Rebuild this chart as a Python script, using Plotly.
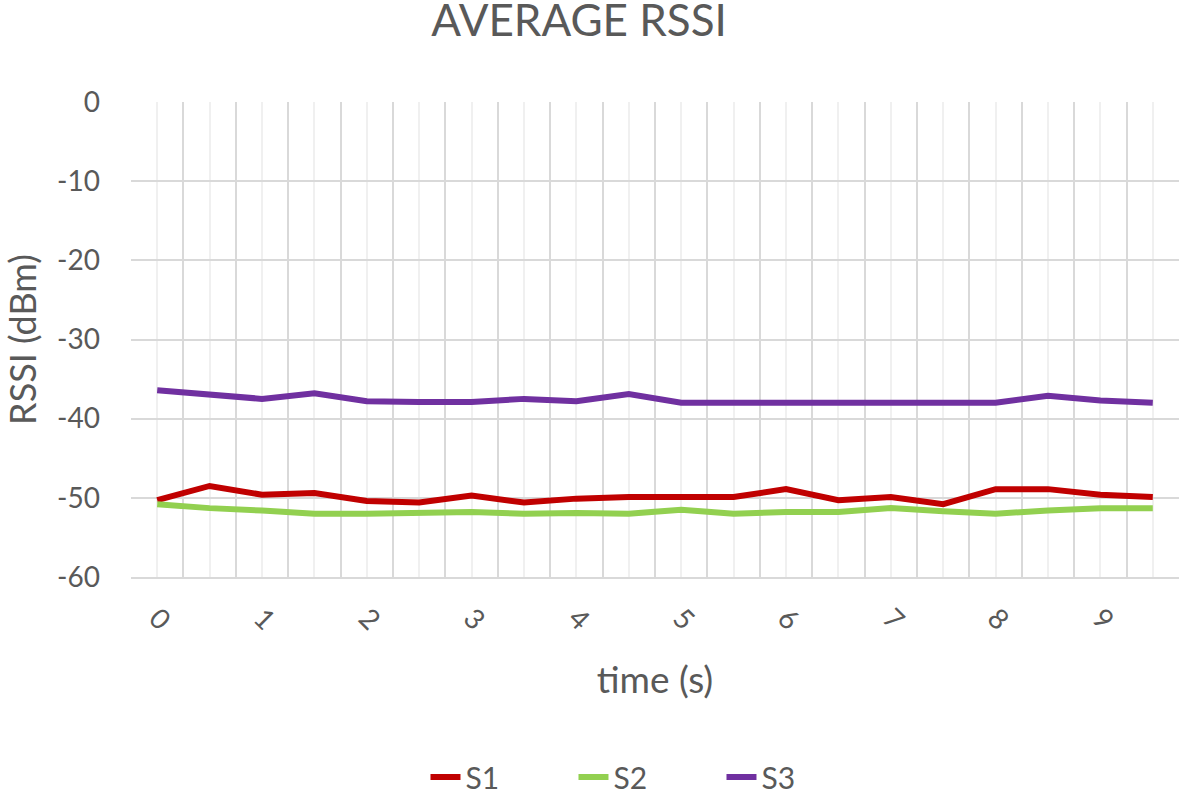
import plotly.graph_objects as go

# time axis (s), one sample every half second
time = [0, 0.5, 1, 1.5, 2, 2.5, 3, 3.5, 4, 4.5, 5, 5.5, 6, 6.5, 7, 7.5, 8, 8.5, 9, 9.5]
tick_labels = ["0", "", "1", "", "2", "", "3", "", "4", "", "5", "", "6", "", "7", "", "8", "", "9", ""]

# average RSSI per sensor (dBm)
s1 = [-50.3, -48.5, -49.6, -49.4, -50.4, -50.6, -49.7, -50.6, -50.1, -49.9,
      -49.9, -49.9, -48.9, -50.3, -49.9, -50.8, -48.9, -48.9, -49.6, -49.9]
s2 = [-50.8, -51.3, -51.6, -52.0, -52.0, -51.9, -51.8, -52.0, -51.9, -52.0,
      -51.5, -52.0, -51.8, -51.8, -51.3, -51.7, -52.0, -51.6, -51.3, -51.3]
s3 = [-36.4, -36.9, -37.5, -36.8, -37.8, -37.9, -37.9, -37.5, -37.8, -36.9,
      -38.0, -38.0, -38.0, -38.0, -38.0, -38.0, -38.0, -37.1, -37.7, -38.0]

series = [("S1", s1, "#C00000"), ("S2", s2, "#92D050"), ("S3", s3, "#7030A0")]
y_ticks = [0, -10, -20, -30, -40, -50, -60]
y_labels = ["0", "-10", "-20", "-30", "-40", "-50", "-60"]

TEXT = "#595959"
FONT = "Lato"
W, H = 1181, 797

fig = go.Figure()
for name, vals, col in series:
    fig.add_trace(go.Scatter(x=time, y=vals, name=name, mode="lines",
                             line=dict(color=col, width=6)))

# category boundaries sit half a step either side of each sample
half = (time[1] - time[0]) / 2
boundaries = [time[0] - half] + [t + half for t in time]

fig.update_layout(
    width=W, height=H,
    paper_bgcolor="white", plot_bgcolor="white",
    margin=dict(l=131, r=2, t=102, b=220),
    font=dict(family=FONT, color=TEXT, size=28),
    title=dict(text="AVERAGE RSSI", x=0.4903, xref="container", xanchor="center",
               y=1 - 21 / H, yref="container", yanchor="middle",
               font=dict(size=44, color=TEXT, family=FONT)),
    showlegend=True,
    # legend placed in window coords so it doesn't shrink the plot area
    legend=dict(orientation="h", x=0.281, xanchor="left", xref="paper",
                y=1 - 777 / H, yref="container", yanchor="middle",
                font=dict(size=30, color=TEXT), entrywidth=103,
                entrywidthmode="pixels", tracegroupgap=0),
)

fig.update_xaxes(
    range=[boundaries[0], boundaries[-1]], automargin=False,
    tickmode="array", tickvals=time, ticktext=tick_labels,
    tickangle=45, ticks="", ticklabelstandoff=12,
    showgrid=True, gridcolor="#F0F0F0", gridwidth=1.5,
    minor=dict(tickmode="array", tickvals=boundaries, showgrid=True,
               gridcolor="#D9D9D9", gridwidth=1.5, ticks=""),
    showline=True, linecolor="#D9D9D9", linewidth=1.5,
    zeroline=False,
    title=dict(text="time (s)", standoff=32, font=dict(size=37, color=TEXT)),
)
fig.update_yaxes(
    range=[-60, 0], automargin=False,
    tickmode="array", tickvals=y_ticks, ticktext=y_labels,
    ticks="", ticklabelstandoff=30,
    showgrid=True, gridcolor="#D9D9D9", gridwidth=1.5,
    showline=False, zeroline=False,
    title=dict(text="RSSI (dBm)", standoff=25, font=dict(size=36, color=TEXT)),
)

# drop the browser's default body margin so the figure fills the window exactly
fig.write_html("out.html", config={"displayModeBar": False},
               post_script="document.body.style.margin = '0';")
